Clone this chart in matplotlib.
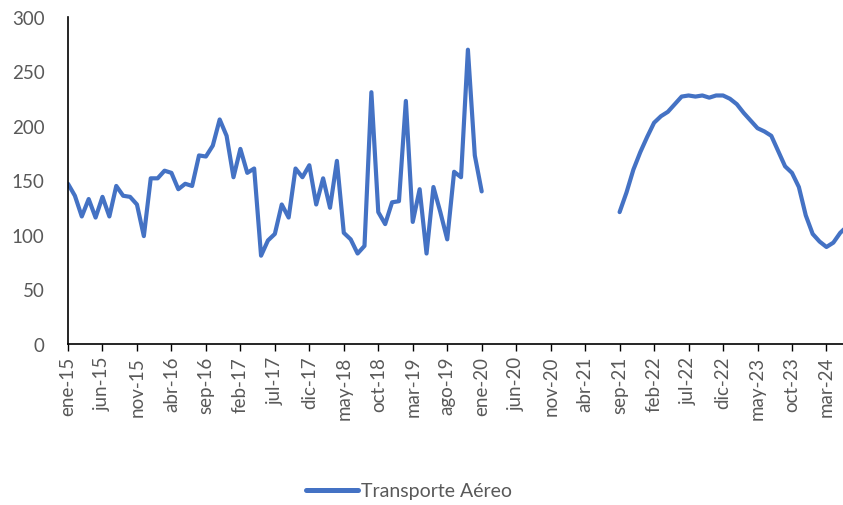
import numpy as np
import matplotlib
matplotlib.use("Agg")
import matplotlib.pyplot as plt

plt.rcParams['font.family'] = ['Lato', 'DejaVu Sans']

# serie mensual ene-15 ... jun-24 (nan = sin dato)
meses = ["ene", "feb", "mar", "abr", "may", "jun", "jul", "ago", "sep", "oct", "nov", "dic"]
anio_ini = 15
tramo1 = [147, 136, 117, 133, 116, 135, 117, 145, 136, 135, 128, 99,
          152, 152, 159, 157, 142, 147, 145, 173, 172, 182, 206, 191,
          153, 179, 157, 161, 81, 95, 101, 128, 116, 161, 153, 164,
          128, 152, 125, 168, 102, 96, 83, 90, 231, 121, 110, 130,
          131, 223, 112, 142, 83, 144, 121, 96, 158, 153, 270, 173,
          140]
hueco = 19
tramo2 = [121, 139, 160, 176, 190, 203, 209, 213, 220, 227, 228, 227,
          228, 226, 228, 228, 225, 220, 212, 205, 198, 195, 191, 177,
          163, 157, 144, 118, 101, 94, 89, 93, 102, 108]

valores = np.array(tramo1 + [np.nan] * hueco + tramo2, dtype=float)
etiquetas = [meses[i % 12] + "-" + str(anio_ini + i // 12) for i in range(len(valores))]
x = np.arange(len(valores))

fig = plt.figure(figsize=(8.43, 5.06), dpi=100)
ax = fig.add_axes([68 / 843, 1 - 345 / 506, 775 / 843, 327 / 506])

ax.plot(x, valores, color="#4472C4", linewidth=3.0, label="Transporte Aéreo",
        solid_capstyle="round", solid_joinstyle="round")

ax.set_ylim(0, 300)
ax.set_yticks(range(0, 301, 50))
ax.set_xlim(0, 112.4)
pos = list(range(0, 111, 5))
ax.set_xticks(pos)
ax.set_xticklabels([etiquetas[p] for p in pos], rotation=90)

for s in ["top", "right"]:
    ax.spines[s].set_visible(False)
ax.spines["left"].set_color("black")
ax.spines["bottom"].set_color("black")
ax.spines["left"].set_linewidth(1.2)
ax.spines["bottom"].set_linewidth(1.2)
ax.tick_params(axis="y", length=0, labelsize=13.5, colors="#595959", pad=17)
ax.tick_params(axis="x", length=5, direction="out", labelsize=13.5, labelcolor="#595959", color="black", width=1)

leg = fig.legend(loc="center", bbox_to_anchor=(0.485, 1 - 492 / 506), frameon=False,
                 fontsize=14, labelcolor="#595959", handlelength=2.7, handletextpad=0.15)
for h in leg.get_lines():
    h.set_linewidth(3.6)

fig.savefig("out.png", dpi=100)
